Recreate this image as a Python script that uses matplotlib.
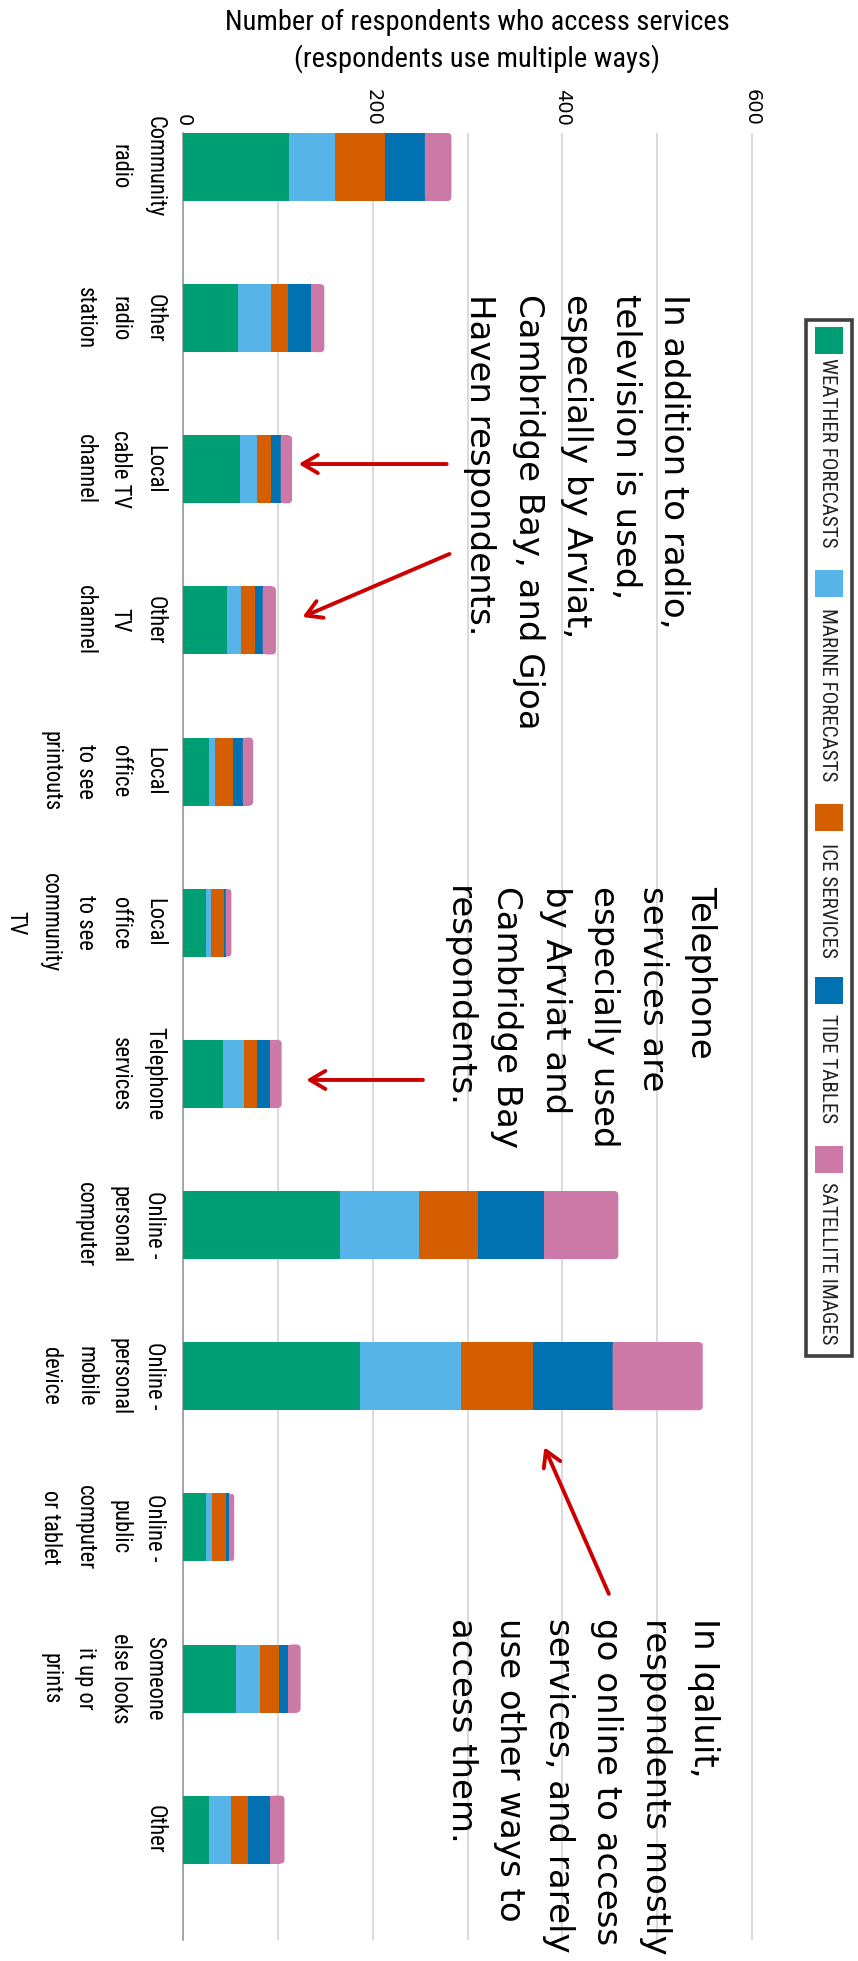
import os
import numpy as np
import matplotlib
matplotlib.use("Agg")
import matplotlib.pyplot as plt
from matplotlib import font_manager as fm
from matplotlib.patches import FancyBboxPatch, Rectangle
from matplotlib.textpath import TextPath

# ---------------- data ----------------
categories = [
    "Community\nradio",
    "Other\nradio\nstation",
    "Local\ncable TV\nchannel",
    "Other\nTV\nchannel",
    "Local\noffice\nto see\nprintouts",
    "Local\noffice\nto see\ncommunity\nTV",
    "Telephone\nservices",
    "Online -\npersonal\ncomputer",
    "Online -\npersonal\nmobile\ndevice",
    "Online -\npublic\ncomputer\nor tablet",
    "Someone\nelse looks\nit up or\nprints",
    "Other",
]
series_names = ["WEATHER FORECASTS", "MARINE FORECASTS", "ICE SERVICES",
                "TIDE TABLES", "SATELLITE IMAGES"]
weather_forecasts = [112, 58, 60, 46, 27, 24, 42, 166, 187, 24, 56, 27]
marine_forecasts = [48, 35, 18, 15, 7, 6, 22, 83, 106, 7, 25, 24]
ice_services = [53, 18, 15, 15, 19, 13, 14, 62, 76, 14, 20, 18]
tide_tables = [42, 24, 10, 8, 10, 2, 14, 70, 84, 4, 10, 23]
satellite_images = [28, 14, 12, 14, 11, 6, 12, 78, 95, 5, 13, 15]
series_colors = ["#009E73", "#56B4E9", "#D55E00", "#0072B2", "#CC79A7"]

value_ticks = [0, 200, 400, 600]
value_tick_labels = ["0", "200", "400", "600"]
value_minor_grid = [100, 300, 500]

title_lines = ["Number of respondents who access services",
               "(respondents use multiple ways)"]

notes = [
    "In addition to radio,\ntelevision is used,\nespecially by Arviat,\nCambridge Bay, and Gjoa\nHaven respondents.",
    "Telephone\nservices are\nespecially used\nby Arviat and\nCambridge Bay\nrespondents.",
    "In Iqaluit,\nrespondents mostly\ngo online to access\nservices, and rarely\nuse other ways to\naccess them.",
]
# arrows: (tail value, tail category pos) -> (tip value, tip category pos)
arrows = [
    ((278, 1.965), (122, 1.965)),
    ((281, 2.56), (126, 2.977)),
    ((253, 6.04), (130, 6.04)),
    ((449, 9.44), (381, 8.47)),
]

# ---------------- fonts ----------------
def find_narrow():
    cands = [("Liberation Sans Narrow", "normal"), ("Arial Narrow", "normal"),
             ("Roboto Condensed", "normal"), ("Open Sans Condensed", "normal"),
             ("Noto Sans Condensed", "normal"), ("DejaVu Sans", "condensed"),
             ("Noto Sans", "condensed"), ("Open Sans", "condensed")]
    for fam, st in cands:
        try:
            path = fm.findfont(fm.FontProperties(family=fam, stretch=st),
                               fallback_to_default=False)
        except Exception:
            continue
        b = os.path.basename(path).lower()
        if "narrow" in b or "condensed" in b:
            return path
    return None

narrow_path = find_narrow()

def narrow_prop(size):
    if narrow_path:
        return fm.FontProperties(fname=narrow_path, size=size)
    return fm.FontProperties(family="DejaVu Sans", size=size)

def plain_prop(size):
    return fm.FontProperties(family="DejaVu Sans", size=size)

PX = 100.0 / 72.0

def ink_width_px(s, prop):
    tp = TextPath((0, 0), s, size=prop.get_size_in_points(), prop=prop)
    return tp.get_extents().width * PX

def lp_metrics_px(prop):
    tp = TextPath((0, 0), "lp", size=prop.get_size_in_points(), prop=prop)
    ext = tp.get_extents()
    return ext.ymax * PX, -ext.ymin * PX   # ascent, descent

def calibrated(maker, sample, target_px, base=12.0):
    p = maker(base)
    w = ink_width_px(sample, p)
    return maker(base * target_px / w)

def spacing_for(prop, step_px):
    asc, desc = lp_metrics_px(prop)
    return (step_px - desc) / asc

cat_prop = calibrated(narrow_prop, "CommunityTelephone", 192)
title_prop = calibrated(narrow_prop, title_lines[0], 500)
legend_prop = calibrated(narrow_prop, "WEATHER FORECASTS", 188)
note_prop = calibrated(plain_prop, "In addition to radio,", 328)
tick_size = 14

cat_ls = spacing_for(cat_prop, 32.5)
note_ls = spacing_for(note_prop, 48.3)

# ---------------- figure ----------------
W, H = 858, 1961
fig = plt.figure(figsize=(W / 100, H / 100), dpi=100)
fig.patch.set_facecolor("white")

def fx(x):
    return x / W

def fy(y):
    return 1 - y / H

ax_left, ax_right, ax_top, ax_bottom = 183, 753, 133, 1940
ax = fig.add_axes([fx(ax_left), fy(ax_bottom), (ax_right - ax_left) / W,
                   (ax_bottom - ax_top) / H])

series = [weather_forecasts, marine_forecasts, ice_services, tide_tables, satellite_images]
ypos = np.arange(len(categories))
bar_h = 0.45
left = np.zeros(len(categories))

x_lim = (0, 601)
y_lim = (11.73, -0.225)
ax.set_xlim(*x_lim)
ax.set_ylim(*y_lim)

x_units_per_px = (x_lim[1] - x_lim[0]) / (ax_right - ax_left)
y_units_per_px = abs(y_lim[0] - y_lim[1]) / (ax_bottom - ax_top)
r_px = 4.0
r_units = r_px * x_units_per_px
aspect = y_units_per_px / x_units_per_px

for i, (vals, col) in enumerate(zip(series, series_colors)):
    vals = np.asarray(vals, dtype=float)
    if i < len(series) - 1:
        ax.barh(ypos, vals, left=left, height=bar_h, color=col, linewidth=0, zorder=3)
    else:
        for yi, l0, v in zip(ypos, left, vals):
            p = FancyBboxPatch((l0, yi - bar_h / 2), v, bar_h,
                               boxstyle=f"round,pad=0,rounding_size={r_units}",
                               mutation_aspect=aspect, fc=col, ec="none", zorder=3)
            ax.add_patch(p)
        ax.barh(ypos, np.maximum(vals - r_units, 0), left=left, height=bar_h,
                color=col, linewidth=0, zorder=3)
    left += vals

# grid & spines
ax.set_xticks(value_ticks)
ax.set_xticklabels(value_tick_labels)
ax.set_xticks(value_minor_grid, minor=True)
ax.grid(axis="x", which="both", color="#d4d4d4", linewidth=1.2, zorder=0)
ax.set_axisbelow(True)
for s in ["top", "right", "bottom"]:
    ax.spines[s].set_visible(False)
ax.spines["left"].set_color("#9a9a9a")
ax.spines["left"].set_linewidth(1.2)

ax.tick_params(axis="x", which="both", length=0, pad=5, top=True, bottom=False,
               labeltop=True, labelbottom=False, labelsize=tick_size,
               labelfontfamily="DejaVu Sans", labelrotation=-90, labelcolor="black")
for t in ax.xaxis.get_majorticklabels():
    t.set_ha("center")
    t.set_va("bottom")

ax.set_yticks(ypos)
ax.set_yticklabels(categories)
ax.tick_params(axis="y", length=0, pad=12, labelsize=cat_prop.get_size_in_points(),
               labelcolor="black")
for t in ax.get_yticklabels():
    t.set_fontproperties(cat_prop)
    t.set_rotation(-90)
    t.set_ha("right")
    t.set_va("center")
    t.set_multialignment("center")
    t.set_linespacing(cat_ls)

# title
fig.text(fx(477), fy(22), title_lines[0], ha="center", va="center",
         fontproperties=title_prop, color="black")
fig.text(fx(477), fy(59), title_lines[1], ha="center", va="center",
         fontproperties=title_prop, color="black")

# annotations text
note_pos = [(690, 294), (717, 886), (720, 1618)]
for txt, (px, py) in zip(notes, note_pos):
    fig.text(fx(px), fy(py), txt, rotation=-90, ha="right", va="top",
             multialignment="left", linespacing=note_ls,
             fontproperties=note_prop, color="black", zorder=5)

# arrows
for (tail, tip) in arrows:
    ax.annotate("", xy=tip, xytext=tail, xycoords="data", textcoords="data",
                arrowprops=dict(arrowstyle="->,head_length=1.1,head_width=0.65",
                                color="#CC0000", lw=2.8, shrinkA=0, shrinkB=0,
                                mutation_scale=10),
                annotation_clip=False, zorder=6)

# legend (rotated, drawn manually)
box = Rectangle((fx(806), fy(1356)), (852 - 806) / W, (1356 - 320) / H,
                transform=fig.transFigure, facecolor="white", edgecolor="#404040",
                linewidth=2.6, zorder=1)
fig.patches.append(box)
sw_tops = [327, 570, 804, 977, 1146]
txt_tops = [358, 608, 843, 1014, 1182]
for name, col, st, tt in zip(series_names, series_colors, sw_tops, txt_tops):
    sw = Rectangle((fx(815), fy(st + 27)), 28 / W, 27 / H, transform=fig.transFigure,
                   facecolor=col, edgecolor="none", zorder=2)
    fig.patches.append(sw)
    fig.text(fx(828), fy(tt), name, rotation=-90, ha="center", va="top",
             fontproperties=legend_prop, color="#222222", zorder=3)

fig.savefig("out.png", dpi=100, facecolor="white")
